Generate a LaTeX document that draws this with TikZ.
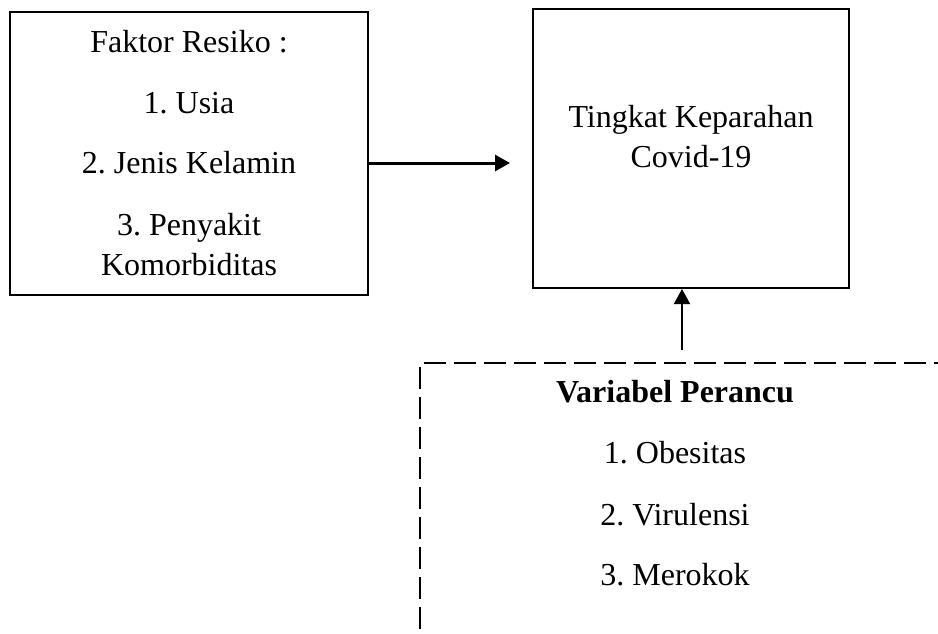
\documentclass[tikz,border=0pt]{standalone}
\usepackage{fontspec}
\setmainfont{Liberation Serif}
\usetikzlibrary{arrows.meta}
\frenchspacing
\begin{document}
\begin{tikzpicture}[x=1pt,y=-1pt,
  box/.style={draw, line width=2pt, rectangle, inner sep=0pt},
  txt/.style={anchor=base, inner sep=0pt, font=\fontsize{32}{40}\selectfont, align=center},
  arr/.style={-{Triangle[length=15pt,width=16pt]}},
  dashbox/.style={draw, line width=2pt, rectangle, inner sep=0pt, dash pattern=on 22pt off 8pt, dash phase=16pt}]
\useasboundingbox (0,0) rectangle (938,633);
\clip (0,0) rectangle (938,633);
\node[box, minimum width=358pt, minimum height=283pt] (lbox) at (189,153.5) {};
\node[box, minimum width=316pt, minimum height=279pt] (rbox) at (691,148.5) {};
\node[dashbox, minimum width=560pt, minimum height=330pt] (conf) at (700,528) {};
\node[txt] (l1) at (189,52) {Faktor Resiko :};
\node[txt] (l2) at (189,113) {1. Usia};
\node[txt] (l3) at (189,173) {2. Jenis Kelamin};
\node[txt] (l4) at (189,235) {3. Penyakit};
\node[txt] (l5) at (189,275) {Komorbiditas};
\node[txt] (r1) at (691,127) {Tingkat Keparahan};
\node[txt] (r2) at (691,167) {Covid-19};
\node[txt, font=\fontsize{32}{40}\selectfont\bfseries] (c1) at (675,402) {Variabel Perancu};
\node[txt] (c2) at (675,463) {1. Obesitas};
\node[txt] (c3) at (675,525) {2. Virulensi};
\node[txt] (c4) at (675,585) {3. Merokok};
\coordinate (hy) at (0,163);
\coordinate (vx) at (682,0);
\draw[arr, line width=3pt, shorten >=22pt] (lbox.east |- hy) -- (rbox.west |- hy);
\draw[arr, line width=2pt, shorten <=12pt] (conf.north -| vx) -- (rbox.south -| vx);
\end{tikzpicture}
\end{document}
